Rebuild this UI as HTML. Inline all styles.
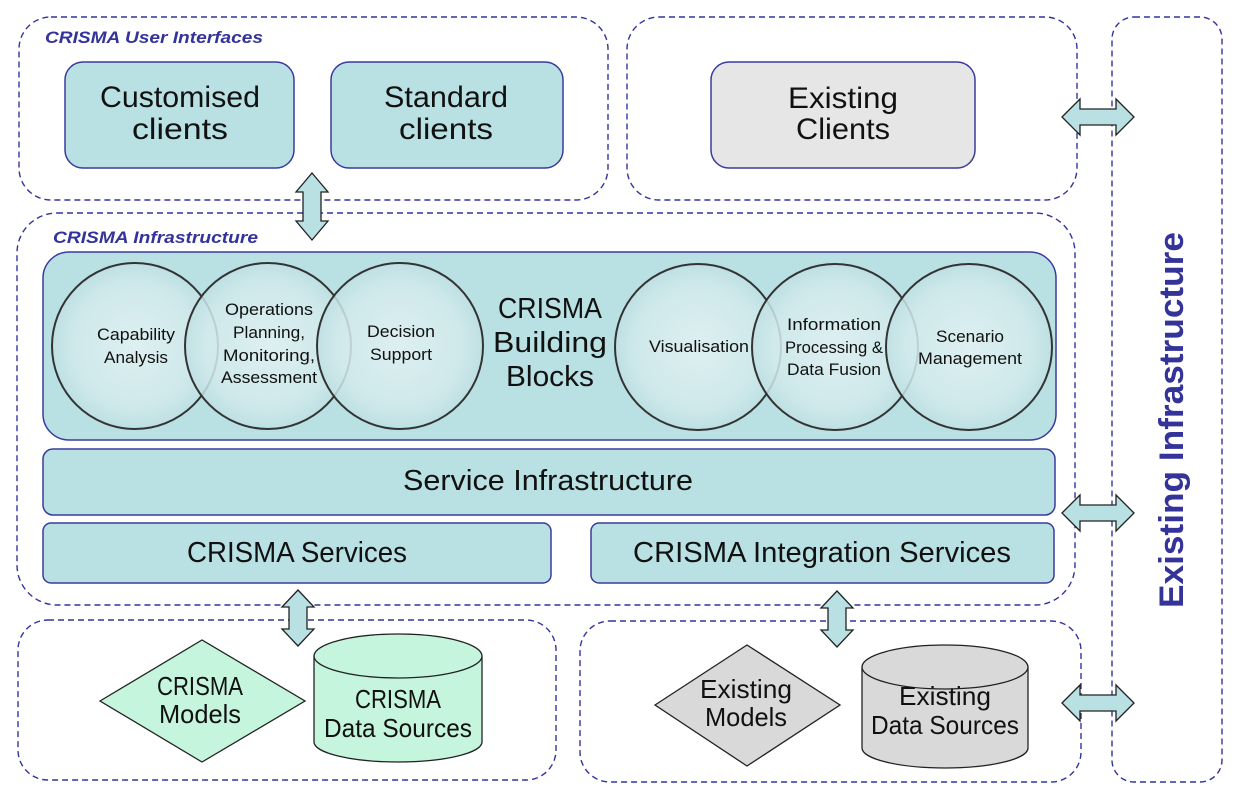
<!DOCTYPE html>
<html><head><meta charset="utf-8"><style>
html,body{margin:0;padding:0;background:#fff;}
svg{display:block;}
text{font-family:"Liberation Sans",sans-serif;}
</style></head><body>
<svg width="1251" height="796" viewBox="0 0 1251 796" xmlns="http://www.w3.org/2000/svg">
<defs>
<radialGradient id="cg" cx="50%" cy="50%" r="50%">
<stop offset="0" stop-color="#e4f2f3"/><stop offset="0.75" stop-color="#d2eaec"/><stop offset="1" stop-color="#bfe0e3"/>
</radialGradient>
</defs>
<g fill="none" stroke="#33339e" stroke-width="1.4" stroke-dasharray="6,4">
<rect x="19" y="17" width="589" height="183" rx="32"/>
<rect x="627" y="17" width="450" height="183" rx="32"/>
<rect x="1112" y="17" width="110" height="765" rx="22"/>
<rect x="17" y="213" width="1058" height="392" rx="40"/>
<rect x="18" y="620" width="538" height="160" rx="30"/>
<rect x="580" y="621" width="501" height="161" rx="30"/>
</g>
<text x="45" y="43" font-size="17" font-weight="bold" font-style="italic" fill="#33339a" textLength="218" lengthAdjust="spacingAndGlyphs">CRISMA User Interfaces</text>
<text x="53" y="243" font-size="17" font-weight="bold" font-style="italic" fill="#33339a" textLength="205" lengthAdjust="spacingAndGlyphs">CRISMA Infrastructure</text>

<g stroke="#3a3a9e" stroke-width="1.5">
<rect x="65" y="62" width="229" height="106" rx="18" fill="#b9e0e3"/>
<rect x="331" y="62" width="232" height="106" rx="18" fill="#b9e0e3"/>
<rect x="711" y="62" width="264" height="106" rx="18" fill="#e6e6e6"/>
<rect x="43" y="252" width="1013" height="188" rx="26" fill="#b9e0e3"/>
<rect x="43" y="449" width="1012" height="66" rx="10" fill="#b9e0e3"/>
<rect x="43" y="523" width="508" height="60" rx="8" fill="#b9e0e3"/>
<rect x="591" y="523" width="463" height="60" rx="8" fill="#b9e0e3"/>
</g>
<g font-size="30" fill="#111" text-anchor="middle">
<text x="180" y="107" textLength="160" lengthAdjust="spacingAndGlyphs">Customised</text>
<text x="180" y="139" textLength="96" lengthAdjust="spacingAndGlyphs">clients</text>
<text x="446" y="107" textLength="124" lengthAdjust="spacingAndGlyphs">Standard</text>
<text x="446" y="139" textLength="94" lengthAdjust="spacingAndGlyphs">clients</text>
<text x="843" y="108" textLength="110" lengthAdjust="spacingAndGlyphs">Existing</text>
<text x="843" y="139" textLength="94" lengthAdjust="spacingAndGlyphs">Clients</text>
<text x="548" y="490" font-size="29" textLength="290" lengthAdjust="spacingAndGlyphs">Service Infrastructure</text>
<text x="297" y="562" font-size="29" textLength="220" lengthAdjust="spacingAndGlyphs">CRISMA Services</text>
<text x="822" y="562" font-size="29" textLength="378" lengthAdjust="spacingAndGlyphs">CRISMA Integration Services</text>
<text x="550" y="318" font-size="29" textLength="104" lengthAdjust="spacingAndGlyphs">CRISMA</text>
<text x="550" y="352" font-size="29" textLength="114" lengthAdjust="spacingAndGlyphs">Building</text>
<text x="550" y="386" font-size="29" textLength="88" lengthAdjust="spacingAndGlyphs">Blocks</text>
</g>
<g fill="url(#cg)" fill-opacity="0.85" stroke="#333" stroke-width="2">
<circle cx="135" cy="346" r="83"/>
<circle cx="268" cy="346" r="83"/>
<circle cx="400" cy="346" r="83"/>
<circle cx="698" cy="347" r="83"/>
<circle cx="835" cy="347" r="83"/>
<circle cx="969" cy="347" r="83"/>
</g>
<g font-size="17" fill="#111" text-anchor="middle">
<text x="136" y="340" textLength="78" lengthAdjust="spacingAndGlyphs">Capability</text>
<text x="136" y="363" textLength="64" lengthAdjust="spacingAndGlyphs">Analysis</text>
<text x="269" y="315" textLength="88" lengthAdjust="spacingAndGlyphs">Operations</text>
<text x="269" y="338" textLength="72" lengthAdjust="spacingAndGlyphs">Planning,</text>
<text x="269" y="361" textLength="92" lengthAdjust="spacingAndGlyphs">Monitoring,</text>
<text x="269" y="383" textLength="96" lengthAdjust="spacingAndGlyphs">Assessment</text>
<text x="401" y="337" textLength="68" lengthAdjust="spacingAndGlyphs">Decision</text>
<text x="401" y="360" textLength="62" lengthAdjust="spacingAndGlyphs">Support</text>
<text x="699" y="352" textLength="100" lengthAdjust="spacingAndGlyphs">Visualisation</text>
<text x="834" y="330" textLength="94" lengthAdjust="spacingAndGlyphs">Information</text>
<text x="834" y="353" textLength="98" lengthAdjust="spacingAndGlyphs">Processing &amp;</text>
<text x="834" y="375" textLength="94" lengthAdjust="spacingAndGlyphs">Data Fusion</text>
<text x="970" y="342" textLength="68" lengthAdjust="spacingAndGlyphs">Scenario</text>
<text x="970" y="364" textLength="104" lengthAdjust="spacingAndGlyphs">Management</text>
</g>

<g stroke="#222" stroke-width="1.3" fill="#b9e0e3">
<path d="M312,173 L328,192 L321,192 L321,221 L328,221 L312,240 L296,221 L303,221 L303,192 L296,192 Z"/>
<path d="M298,590 L314,607 L307,607 L307,629 L314,629 L298,646 L282,629 L289,629 L289,607 L282,607 Z"/>
<path d="M837,591 L853,608 L846,608 L846,630 L853,630 L837,647 L821,630 L828,630 L828,608 L821,608 Z"/>
<path d="M1062,117 L1080,99 L1080,109 L1116,109 L1116,99 L1134,117 L1116,135 L1116,125 L1080,125 L1080,135 Z"/>
<path d="M1062,513 L1080,495 L1080,505 L1116,505 L1116,495 L1134,513 L1116,531 L1116,521 L1080,521 L1080,531 Z"/>
<path d="M1062,703 L1080,685 L1080,695 L1116,695 L1116,685 L1134,703 L1116,721 L1116,711 L1080,711 L1080,721 Z"/>
</g>

<g stroke="#222" stroke-width="1.3">
<polygon points="100,701 202,640 305,701 202,762" fill="#c5f5dd"/>
<path d="M314,656 L314,742 A84,20 0 0 0 482,742 L482,656" fill="#c5f5dd"/>
<ellipse cx="398" cy="656" rx="84" ry="22" fill="#c5f5dd"/>
<polygon points="655,705 747,645 840,705 747,766" fill="#d9d9d9"/>
<path d="M862,667 L862,748 A83,20 0 0 0 1028,748 L1028,667" fill="#d9d9d9"/>
<ellipse cx="945" cy="667" rx="83" ry="22" fill="#d9d9d9"/>
</g>
<g font-size="26" fill="#111" text-anchor="middle">
<text x="200" y="695" textLength="86" lengthAdjust="spacingAndGlyphs">CRISMA</text>
<text x="200" y="723" textLength="82" lengthAdjust="spacingAndGlyphs">Models</text>
<text x="398" y="708" textLength="86" lengthAdjust="spacingAndGlyphs">CRISMA</text>
<text x="398" y="737" textLength="148" lengthAdjust="spacingAndGlyphs">Data Sources</text>
<text x="746" y="698" textLength="92" lengthAdjust="spacingAndGlyphs">Existing</text>
<text x="746" y="726" textLength="82" lengthAdjust="spacingAndGlyphs">Models</text>
<text x="945" y="705" textLength="92" lengthAdjust="spacingAndGlyphs">Existing</text>
<text x="945" y="734" textLength="148" lengthAdjust="spacingAndGlyphs">Data Sources</text>
</g>
<text transform="translate(1183,420) rotate(-90)" text-anchor="middle" font-size="34" font-weight="bold" fill="#33339a" textLength="376" lengthAdjust="spacingAndGlyphs">Existing Infrastructure</text>
</svg>
</body></html>
